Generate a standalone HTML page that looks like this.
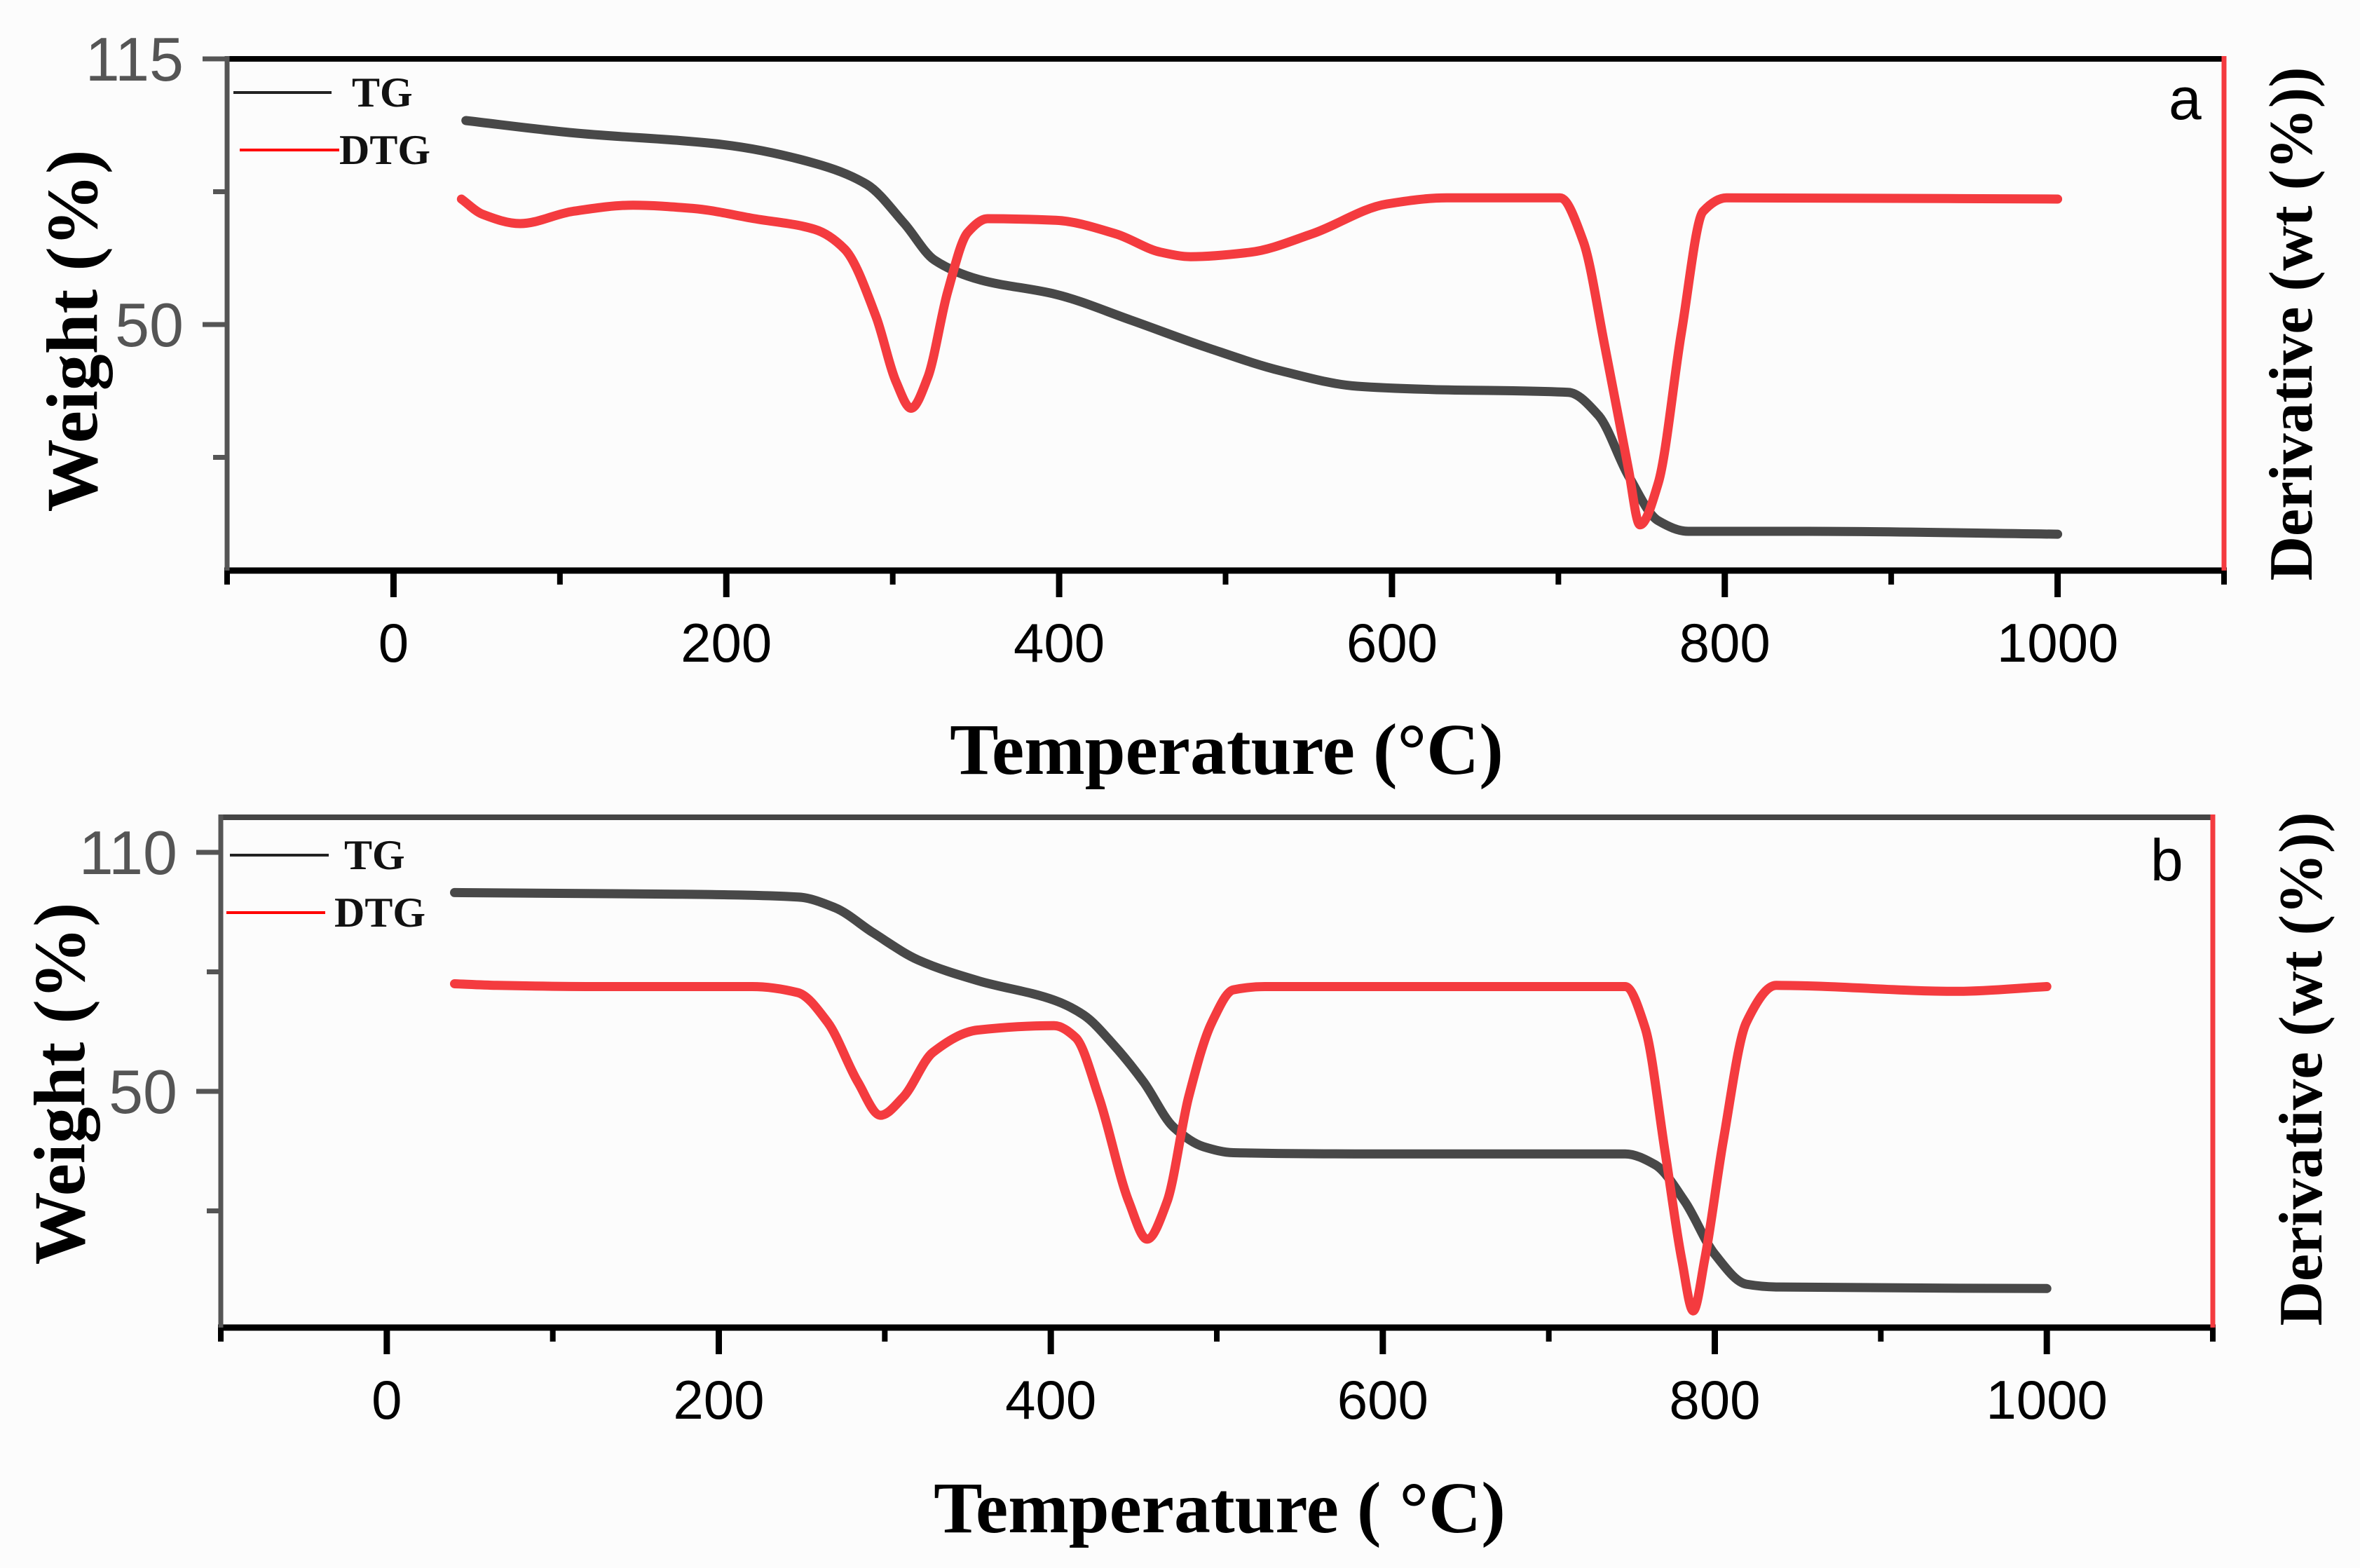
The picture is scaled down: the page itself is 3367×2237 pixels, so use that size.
<!DOCTYPE html>
<html><head><meta charset="utf-8">
<style>
html,body{margin:0;padding:0;background:#fcfcfc;}
svg{display:block;}
</style></head>
<body>
<svg id="chart" width="3367" height="2237" viewBox="0 0 3367 2237" xmlns="http://www.w3.org/2000/svg">
<rect x="0" y="0" width="3367" height="2237" fill="#fcfcfc"/>
</svg>
<script>
// ---------- Panel a data ----------
const tgA_T = [43.5,107.8,198.4,252.7,284.4,307,325,352,398,443,488,534,579,624,706,724,742,760,778,850,1000];
const tgA_W = [99.9,96.9,94.0,89.5,84.3,74.7,65.8,61.0,57.4,51.1,44.5,38.6,34.9,34.1,33.4,27.8,13.1,2.0,-0.6,-0.6,-1.3];
const dtgA_T = [40.8,53.4,76.1,107.8,144,180,217,253,271,290,302,311,321,333,345,357,398,434,461,479,515,552,597,633,701,715,728,742,749,760,774,787,801,1000];
const dtgA_W = [80.7,77.0,74.7,77.7,79.2,78.4,75.9,73.3,68.5,51.9,36.0,29.5,37.0,58.0,72.5,75.9,75.5,72.2,67.7,66.6,67.7,72.2,79.5,81.0,81.0,70.3,44.5,14.9,1.0,11.2,48.2,77.7,81.0,80.7];
// ---------- Panel b data ----------
const tgB_T = [40.8,175,247.5,270,293,320,356,402,420,438,456,474,492,510,583,746,764,782,800,819,837,1000];
const tgB_W = [99.9,99.5,98.8,96.1,89.8,83.0,77.8,72.9,69.1,61.6,52.3,41.0,36.1,34.6,34.3,34.3,31.6,22.3,9.1,1.6,0.9,0.5];
const dtgB_T = [40.8,66.2,129.6,220,247.5,265.6,283.8,297.4,311,329,356,402,415,429,447,458,470,483,497,510,529,746,758,770,780,787,794,805,819,837,946,1000];
const dtgB_W = [77.0,76.6,76.3,76.3,74.8,67.3,52.3,44.0,48.5,59.8,65.4,66.5,63.5,48.5,22.3,12.9,22.3,48.5,67.3,75.5,76.3,76.3,66.0,35.0,8.0,-5.1,8.0,37.3,67.3,76.6,75.1,76.3];
// ---------- Axis ticks ----------
const xTicks = [0,200,400,600,800,1000];
const xMinor = [-100,100,300,500,700,900,1100];
const yTicksA = [115,50];
const yMinorA = [82.5,17.5];
const yTicksB = [110,50];
const yMinorB = [80,20];

const NS = "http://www.w3.org/2000/svg";
const svg = document.getElementById('chart');
function mk(tag, attrs, parent){
  const e = document.createElementNS(NS, tag);
  for (const k in attrs) e.setAttribute(k, attrs[k]);
  (parent||svg).appendChild(e);
  return e;
}
function smoothPath(pts){
  const n = pts.length;
  const dx=[], m=[];
  for (let i=0;i<n-1;i++){ dx[i]=pts[i+1][0]-pts[i][0]; m[i]=(pts[i+1][1]-pts[i][1])/dx[i]; }
  const t=[m[0]];
  for (let i=1;i<n-1;i++){
    if (m[i-1]*m[i]<=0) t[i]=0;
    else { const w1=2*dx[i]+dx[i-1], w2=dx[i]+2*dx[i-1]; t[i]=(w1+w2)/(w1/m[i-1]+w2/m[i]); }
  }
  t[n-1]=m[n-2];
  let d = `M${pts[0][0].toFixed(1)},${pts[0][1].toFixed(1)}`;
  for (let i=0;i<n-1;i++){
    const h=dx[i]/3;
    d += ` C${(pts[i][0]+h).toFixed(1)},${(pts[i][1]+t[i]*h).toFixed(1)} ${(pts[i+1][0]-h).toFixed(1)},${(pts[i+1][1]-t[i+1]*h).toFixed(1)} ${pts[i+1][0].toFixed(1)},${pts[i+1][1].toFixed(1)}`;
  }
  return d;
}

function panel(cfg){
  const g = mk('g', {});
  
  
  const xs = v => cfg.x0 + (v - (-100)) / 1200 * (cfg.x1 - cfg.x0);
  const ys = v => cfg.yA + (cfg.vA - v) / (cfg.vA - cfg.vB) * (cfg.yB - cfg.yA);

  const tg = mk('path', {d: smoothPath(cfg.tgT.map((t,i)=>[xs(t), ys(cfg.tgW[i])])), fill:'none', stroke:'#484848', 'stroke-width':13, 'stroke-linecap':'round', 'stroke-linejoin':'round'}, g);
  
  
  const dtg = mk('path', {d: smoothPath(cfg.dtgT.map((t,i)=>[xs(t), ys(cfg.dtgW[i])])), fill:'none', stroke:'#f43b3f', 'stroke-width':13, 'stroke-linecap':'round', 'stroke-linejoin':'round'}, g);
  
  

  const top = mk('line', {x1:cfg.x0, y1:cfg.y0, x2:cfg.x1, y2:cfg.y0, stroke:cfg.topColor, 'stroke-width':8}, g);
  
  
  const bot = mk('line', {x1:cfg.x0-4, y1:cfg.y1, x2:cfg.x1+4, y2:cfg.y1, stroke:'#000', 'stroke-width':9}, g);
  
  
  const left = mk('line', {x1:cfg.x0, y1:cfg.y0-4, x2:cfg.x0, y2:cfg.y1, stroke:'#555', 'stroke-width':7}, g);
  
  
  const right = mk('line', {x1:cfg.x1, y1:cfg.y0-4, x2:cfg.x1, y2:cfg.y1+5, stroke:'#f43b3f', 'stroke-width':7}, g);
  
  

  xTicks.forEach(v=>{
    const t = mk('line', {x1:xs(v), y1:cfg.y1, x2:xs(v), y2:cfg.y1+38, stroke:'#000', 'stroke-width':9}, g);
    
    
    const l = mk('text', {x:xs(v), y:cfg.y1+130, 'text-anchor':'middle', 'font-family':'Liberation Sans, sans-serif', 'font-size':78, fill:'#000'}, g);
    l.textContent = v;
    
    
  });
  xMinor.forEach(v=>{
    const t = mk('line', {x1:xs(v), y1:cfg.y1, x2:xs(v), y2:cfg.y1+20, stroke:'#000', 'stroke-width':8}, g);
    
    
  });
  cfg.yTicks.forEach(v=>{
    const t = mk('line', {x1:cfg.x0-35, y1:ys(v), x2:cfg.x0, y2:ys(v), stroke:'#555', 'stroke-width':7}, g);
    
    
    const l = mk('text', {x:cfg.x0-62, y:ys(v)+31, 'text-anchor':'end', 'font-family':'Liberation Sans, sans-serif', 'font-size':88, fill:'#555'}, g);
    l.textContent = v;
    
    
  });
  cfg.yMinor.forEach(v=>{
    const t = mk('line', {x1:cfg.x0-20, y1:ys(v), x2:cfg.x0, y2:ys(v), stroke:'#555', 'stroke-width':7}, g);
    
    
  });

  const lg = mk('g', {}, g);
  
  
  const l1 = mk('line', {x1:cfg.leg.tgx1, y1:cfg.leg.tgy, x2:cfg.leg.tgx2, y2:cfg.leg.tgy, stroke:'#222', 'stroke-width':4}, lg);
  
  
  const t1 = mk('text', {x:cfg.leg.tgtx, y:cfg.leg.tgy+20, 'font-family':'Liberation Serif, serif', 'font-weight':'bold', 'font-size':60, fill:'#111'}, lg);
  t1.textContent = 'TG';
  
  
  const l2 = mk('line', {x1:cfg.leg.dx1, y1:cfg.leg.dy, x2:cfg.leg.dx2, y2:cfg.leg.dy, stroke:'#f00', 'stroke-width':4}, lg);
  
  
  const t2 = mk('text', {x:cfg.leg.dtx, y:cfg.leg.dy+20, 'font-family':'Liberation Serif, serif', 'font-weight':'bold', 'font-size':60, fill:'#111'}, lg);
  t2.textContent = 'DTG';
  
  

  const pl = mk('text', {x:cfg.letter.x, y:cfg.letter.y, 'font-family':'Liberation Sans, sans-serif', 'font-size':84, fill:'#000'}, g);
  pl.textContent = cfg.letter.t;
  
  

  const xt = mk('text', {x:cfg.xt.x, y:cfg.xt.y, 'text-anchor':'middle', 'font-family':'Liberation Serif, serif', 'font-weight':'bold', 'font-size':104, fill:'#000'}, g);
  xt.textContent = cfg.xt.t;
  
  
  const yt = mk('text', {x:0, y:0, transform:`translate(${cfg.yt.x},${cfg.yt.y}) rotate(-90)`, 'text-anchor':'middle', 'font-family':'Liberation Serif, serif', 'font-weight':'bold', 'font-size':104, fill:'#000'}, g);
  yt.textContent = 'Weight (%)';
  
  
  const rt = mk('text', {x:0, y:0, transform:`translate(${cfg.rt.x},${cfg.rt.y}) rotate(-90)`, 'text-anchor':'middle', 'font-family':'Liberation Serif, serif', 'font-weight':'bold', 'font-size':88, fill:'#000'}, g);
  rt.textContent = 'Derivative (wt (%))';
  
  
}

panel({name:'panel-a', x0:324, x1:3173, y0:84, y1:814, vA:115, yA:84, vB:50, yB:463,
  tgT:tgA_T, tgW:tgA_W, dtgT:dtgA_T, dtgW:dtgA_W, topColor:'#000',
  yTicks:yTicksA, yMinor:yMinorA,
  leg:{tgx1:333,tgx2:473,tgy:132,tgtx:502,dx1:342,dx2:484,dy:214,dtx:484},
  letter:{x:3094,y:170,t:'a'},
  xt:{x:1750,y:1104,t:'Temperature (°C)'},
  yt:{x:138,y:472}, rt:{x:3298,y:462}});
panel({name:'panel-b', x0:315, x1:3157, y0:1166, y1:1894, vA:110, yA:1216, vB:50, yB:1557,
  tgT:tgB_T, tgW:tgB_W, dtgT:dtgB_T, dtgW:dtgB_W, topColor:'#444',
  yTicks:yTicksB, yMinor:yMinorB,
  leg:{tgx1:328,tgx2:469,tgy:1220,tgtx:491,dx1:323,dx2:464,dy:1302,dtx:477},
  letter:{x:3068,y:1256,t:'b'},
  xt:{x:1740,y:2186,t:'Temperature ( °C)'},
  yt:{x:120,y:1546}, rt:{x:3312,y:1525}});
</script>
</body></html>
